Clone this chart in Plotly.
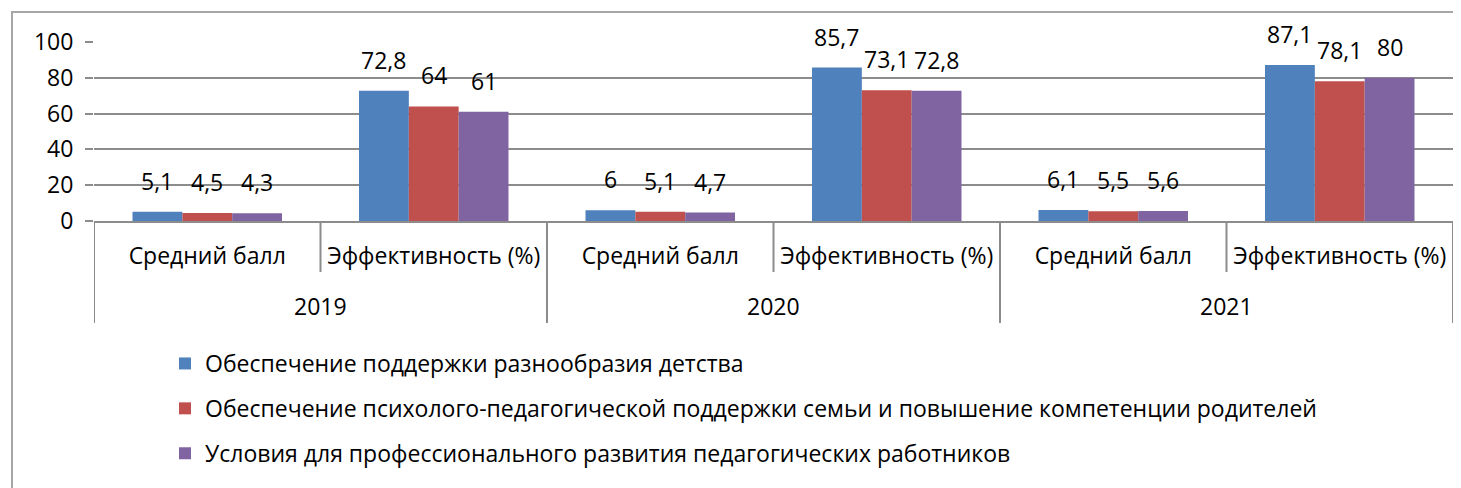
import plotly.graph_objects as go

years = ["2019", "2020", "2021"]
metrics = ["Средний балл", "Эффективность (%)"] * 3
series_names = [
    "Обеспечение поддержки разнообразия детства",
    "Обеспечение психолого-педагогической поддержки семьи и повышение компетенции родителей",
    "Условия для профессионального развития педагогических работников",
]
s1 = [5.1, 72.8, 6.0, 85.7, 6.1, 87.1]
s2 = [4.5, 64.0, 5.1, 73.1, 5.5, 78.1]
s3 = [4.3, 61.0, 4.7, 72.8, 5.6, 80.0]
colors = ["#4F81BD", "#C0504D", "#8064A2"]
y_ticks = [0, 20, 40, 60, 80, 100]

FONT = "Open Sans"
FS = 23
W, H = 1461, 488
OFF = 8  # default page body margin
# plot area in page pixels
PX0, PX1, PY0, PY1 = 94, 1453, 42, 221
L, T = PX0 - OFF, PY0 - OFF
R = W - (PX1 - OFF)
B = H - (PY1 - OFF)
GRID = "#8C8C8C"
BARGAP = 0.34


def fmt(v):
    return ("%g" % v).replace(".", ",")


px = lambda p: (p - PX0) / (PX1 - PX0)
py = lambda p: (PY1 - p) / (PY1 - PY0)

xs = list(range(len(metrics)))
per_year = len(metrics) // len(years)
all_series = [s1, s2, s3]
nser = len(all_series)
bw = (1 - BARGAP) / nser

fig = go.Figure()
annotations = []
for i, (name, vals, col) in enumerate(zip(series_names, all_series, colors)):
    fig.add_trace(go.Bar(
        x=xs, y=vals, name=name,
        marker=dict(color=col, line=dict(width=0)),
        legendgroup="g%d" % i,
    ))
    for xi, v in zip(xs, vals):
        annotations.append(dict(
            x=xi + (i - (nser - 1) / 2) * bw, xref="x", y=v, yref="y",
            text=fmt(v), showarrow=False, xanchor="center", yanchor="bottom",
            yshift=13, font=dict(family=FONT, size=FS, color="#000000")))

shapes = []
# category separators
for k in range(len(metrics) + 1):
    xb = k - 0.5
    y_bottom = py(323) if k % per_year == 0 else py(272)
    shapes.append(dict(type="line", xref="x", yref="paper",
                       x0=xb, x1=xb, y0=0, y1=y_bottom,
                       line=dict(color=GRID, width=2)))
# year labels
for j, yr in enumerate(years):
    xc = j * per_year + (per_year - 1) / 2
    annotations.append(dict(x=xc, xref="x", y=py(306), yref="paper", text=yr,
                            showarrow=False, xanchor="center", yanchor="middle",
                            font=dict(family=FONT, size=FS, color="#000000")))

# outer chart border
shapes.append(dict(type="rect", xref="paper", yref="paper",
                   x0=px(12), x1=px(1462), y0=py(490), y1=py(12),
                   line=dict(color="#A6A6A6", width=2), layer="below"))

fig.update_layout(
    width=W, height=H,
    margin=dict(l=L, r=R, t=T, b=B, pad=0),
    paper_bgcolor="white", plot_bgcolor="white",
    barmode="group", bargap=BARGAP, bargroupgap=0,
    font=dict(family=FONT, size=FS, color="#000000"),
    showlegend=True,
    legend=dict(orientation="v", x=px(165), xanchor="left", y=py(342), yanchor="top",
                font=dict(family=FONT, size=FS, color="#000000"),
                tracegroupgap=12, itemsizing="constant", bgcolor="rgba(0,0,0,0)"),
    shapes=shapes,
    annotations=annotations,
)
fig.update_yaxes(range=[0, 100], tickvals=y_ticks, showgrid=True, gridcolor=GRID, gridwidth=2,
                 ticks="outside", ticklen=8, tickcolor=GRID, tickwidth=2,
                 showline=False, zeroline=False, automargin=False, ticklabelstandoff=7,
                 tickfont=dict(family=FONT, size=FS, color="#000000"))
fig.update_xaxes(range=[-0.5, len(metrics) - 0.5], tickvals=xs, ticktext=metrics,
                 showline=True, linecolor=GRID, linewidth=2, showgrid=False, zeroline=False,
                 ticks="", automargin=False, ticklabelstandoff=13,
                 tickfont=dict(family=FONT, size=FS, color="#000000"))

fig.write_html("out.html")
